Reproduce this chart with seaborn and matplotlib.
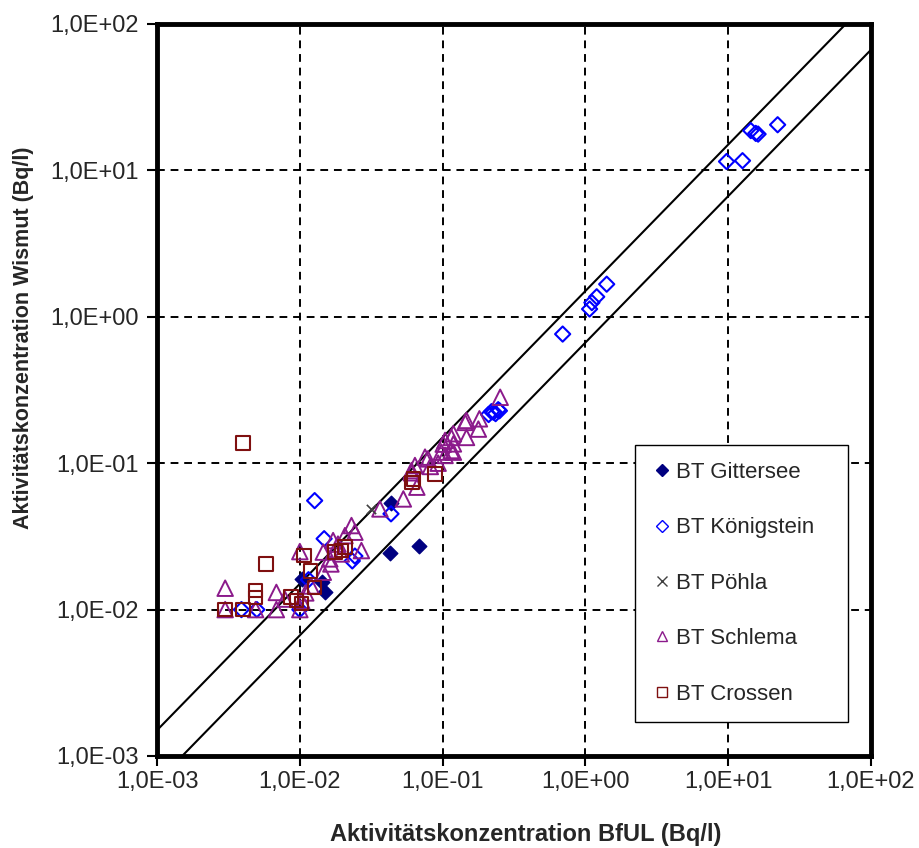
import numpy as np
import pandas as pd
import matplotlib
matplotlib.use("Agg")
from matplotlib import pyplot as plt
from matplotlib.lines import Line2D
from matplotlib.ticker import FixedLocator, FuncFormatter, NullLocator
import seaborn as sb

# Messwerte BfUL (x) gegen Wismut (y), je Betriebsteil
git_x = [0.0104, 0.0142, 0.0150, 0.0428, 0.0435, 0.0683]
git_y = [0.0162, 0.0154, 0.0131, 0.0244, 0.0533, 0.0274]

kon_x = [0.0039, 0.0050, 0.0100, 0.0115, 0.0127, 0.0148, 0.0233, 0.0243, 0.0435,
         0.210, 0.220, 0.227, 0.235, 0.245, 0.250,
         0.693, 1.07, 1.11, 1.20, 1.41, 9.74, 12.6, 14.4, 15.6, 16.2, 22.2]
kon_y = [0.0100, 0.0100, 0.0100, 0.0160, 0.0555, 0.0305, 0.0215, 0.0232, 0.0451,
         0.215, 0.225, 0.223, 0.218, 0.232, 0.228,
         0.762, 1.13, 1.25, 1.37, 1.67, 11.5, 11.65, 18.7, 17.9, 17.7, 20.5]

poe_x = [0.0313]
poe_y = [0.0487]

sch_x = [0.0030, 0.0030, 0.0049, 0.00685, 0.00685, 0.00785, 0.0100, 0.0100, 0.0103,
         0.0110, 0.0120, 0.0146, 0.0146, 0.0162, 0.0165, 0.0171, 0.0185, 0.0195,
         0.0207, 0.0230, 0.0243, 0.0270, 0.0364, 0.0531, 0.0605, 0.0605, 0.064,
         0.066, 0.0753, 0.079, 0.082, 0.093, 0.098, 0.101, 0.104, 0.104, 0.115,
         0.115, 0.119, 0.119, 0.119, 0.1437, 0.147, 0.147, 0.178, 0.181, 0.253]
sch_y = [0.0100, 0.0140, 0.0100, 0.0100, 0.0131, 0.0118, 0.0100, 0.0249, 0.0115,
         0.0130, 0.0145, 0.0180, 0.0247, 0.0222, 0.0205, 0.0296, 0.0280, 0.0240,
         0.0320, 0.0375, 0.0338, 0.0253, 0.0487, 0.0570, 0.0860, 0.0890, 0.0964,
         0.0686, 0.1100, 0.1070, 0.0950, 0.1000, 0.1190, 0.1350, 0.1130, 0.1430,
         0.1500, 0.1220, 0.1590, 0.1355, 0.1190, 0.1900, 0.1960, 0.1500, 0.1710,
         0.2010, 0.2820]

cro_x = [0.0030, 0.0040, 0.0040, 0.0049, 0.0049, 0.0058, 0.0087, 0.0095, 0.0103,
         0.0107, 0.0119, 0.0127, 0.0176, 0.0196, 0.0207, 0.0610, 0.0624, 0.0885]
cro_y = [0.0100, 0.0100, 0.1370, 0.0135, 0.0121, 0.0204, 0.0122, 0.0115, 0.0110,
         0.0235, 0.0183, 0.0142, 0.0247, 0.0253, 0.0267, 0.0740, 0.0780, 0.0845]

# Vergleichsgeraden y = f * x
line_x = [1e-3, 1e2]
factors = [1.5, 1 / 1.5]

sb.set_style("white")
plt.rcParams['font.family'] = ['Liberation Sans', 'DejaVu Sans']

fig, ax = plt.subplots(figsize=(9.2, 8.48), dpi=100)
fig.subplots_adjust(left=0.1707, right=0.9467, top=0.9717, bottom=0.1085)

ax.set_xscale("log")
ax.set_yscale("log")
ax.set_xlim(1e-3, 1e2)
ax.set_ylim(1e-3, 1e2)

for f in factors:
    sb.lineplot(x=line_x, y=[f * v for v in line_x], ax=ax, color="black",
                linewidth=1.5, zorder=2)

series = [
    ("BT Gittersee", git_x, git_y, "D", "#000080", "#000080", 55, 1.0),
    ("BT Königstein", kon_x, kon_y, "D", "none", "#0000FF", 60, 1.5),
    ("BT Pöhla", poe_x, poe_y, "x", "#404040", "#404040", 45, 1.2),
    ("BT Schlema", sch_x, sch_y, "^", "none", "#8B1A8B", 125, 1.4),
    ("BT Crossen", cro_x, cro_y, "s", "none", "#7F1010", 95, 1.5),
]
order = [0, 1, 3, 4, 2]
for i in order:
    name, xs, ys, m, fc, ec, s, lw = series[i]
    df = pd.DataFrame({"x": xs, "y": ys})
    if m == "x":
        sb.scatterplot(data=df, x="x", y="y", ax=ax, marker=m, color=ec, s=s,
                       linewidth=lw, zorder=5)
    else:
        sb.scatterplot(data=df, x="x", y="y", ax=ax, marker=m, color=ec,
                       facecolor=fc, edgecolor=ec, s=s, linewidth=lw, zorder=4)

# Achsen
decades = [1e-3, 1e-2, 1e-1, 1e0, 1e1, 1e2]
fmt = FuncFormatter(lambda v, p: "1,0E{:+03d}".format(int(round(np.log10(v)))))
for axis in (ax.xaxis, ax.yaxis):
    axis.set_major_locator(FixedLocator(decades))
    axis.set_minor_locator(NullLocator())
    axis.set_major_formatter(fmt)
ax.tick_params(axis="both", which="major", direction="out", length=7, width=1.5,
               labelsize=17, color="black", bottom=True, left=True)
ax.tick_params(axis="y", pad=6)
ax.tick_params(axis="x", pad=4)
ax.grid(True, which="major", color="black", linestyle=(0, (4, 3)), linewidth=1.4)
for sp in ax.spines.values():
    sp.set_visible(True)
    sp.set_color("black")
    sp.set_linewidth(3.5)

ax.set_xlabel("Aktivitätskonzentration BfUL (Bq/l)", fontsize=17,
              fontweight="bold")
ax.xaxis.set_label_coords(0.517, -0.092)
ax.set_ylabel("Aktivitätskonzentration Wismut (Bq/l)", fontsize=15.5,
              fontweight="bold",
              family=['Liberation Sans Narrow', 'Liberation Sans'])
ax.yaxis.set_label_coords(-0.172, 0.571)

handles = []
for name, xs, ys, m, fc, ec, s, lw in series:
    handles.append(Line2D([], [], linestyle="none", marker=m,
                          markersize=7.5 if m != "D" else 6,
                          markerfacecolor=fc, markeredgecolor=ec,
                          markeredgewidth=1.0, label=name))
leg = ax.legend(handles=handles, loc="lower left",
                bbox_to_anchor=(0.6695, 0.0464, 0.2983, 0.37), mode="expand",
                fontsize=16, frameon=True, fancybox=False, framealpha=1,
                edgecolor="black", labelspacing=1.55, handlelength=0.9,
                handletextpad=0.15, borderpad=0.78, borderaxespad=0)
leg.get_frame().set_linewidth(1.0)
leg.set_zorder(10)

fig.savefig("out.png", dpi=100, facecolor="white")
